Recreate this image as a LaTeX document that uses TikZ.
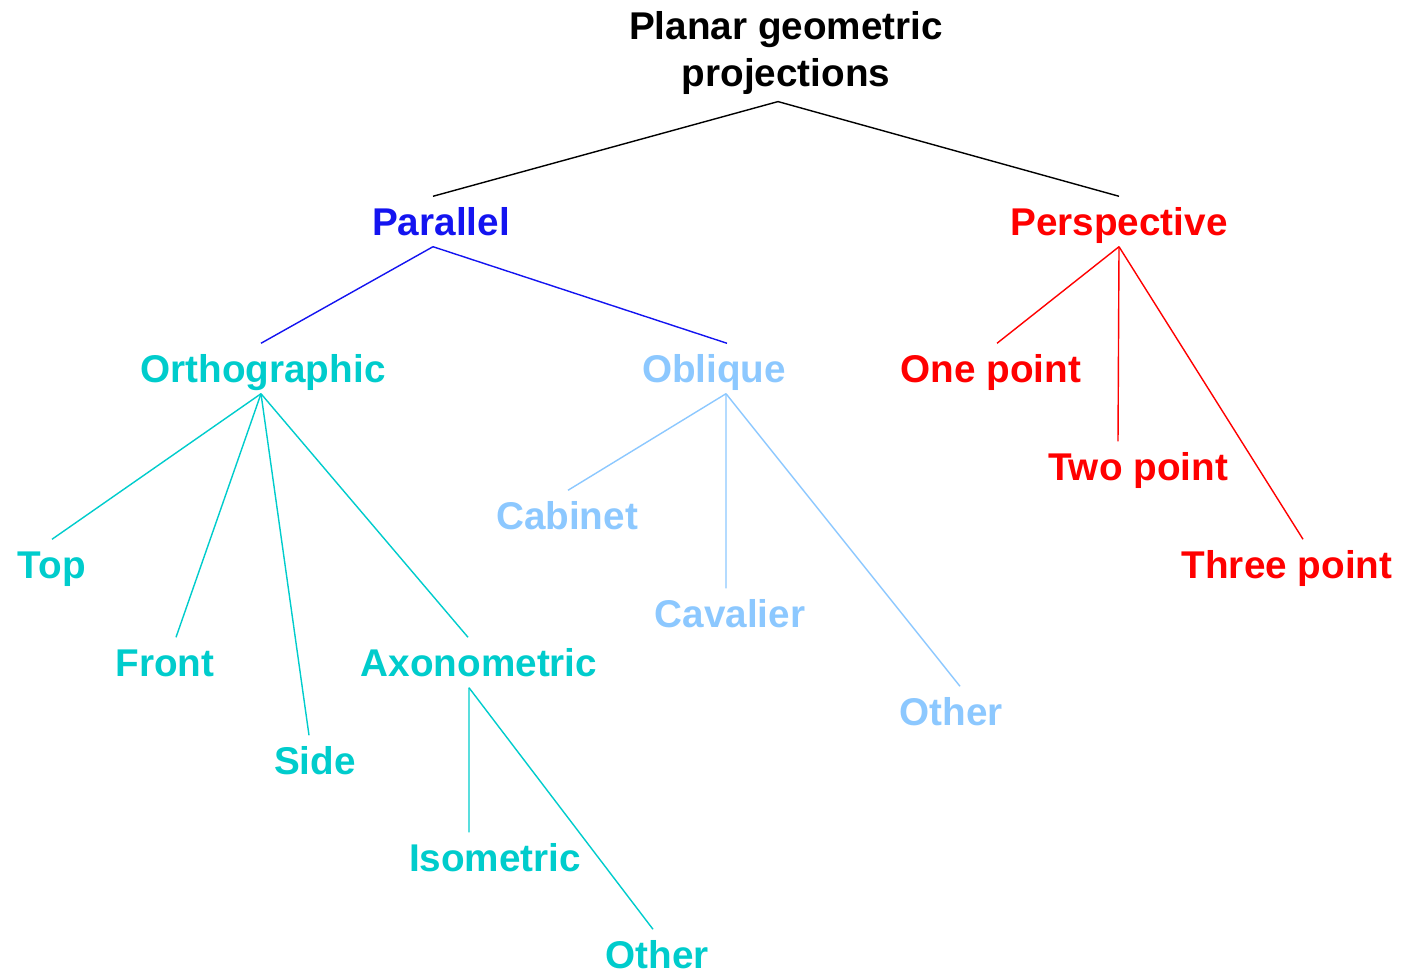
\documentclass[tikz,border=0pt]{standalone}
\usepackage{fontspec}
\setmainfont{Liberation Sans}

\definecolor{parblue}{RGB}{20,20,240}
\definecolor{orthcyan}{RGB}{0,204,204}
\definecolor{oblblue}{RGB}{140,200,255}
\definecolor{persred}{RGB}{255,0,0}

\begin{document}
\begin{tikzpicture}[
        x=0.01cm, y=-0.01cm,
        font=\fontsize{11}{13.4}\selectfont\bfseries,
        kind/.style={anchor=base, inner xsep=0pt, inner ysep=0.09cm, text height=0.29cm, text depth=0.02cm},
        link/.style={line width=0.4pt}
    ]
        \useasboundingbox (0,0) rectangle (1404,973);

        \node[align=center, anchor=north, inner sep=0pt] (root) at (786,11) {Planar geometric\\projections};
        \coordinate (rootjoin) at ([xshift=-0.08cm, yshift=-0.06cm]root.south);

        % first level
        \node[kind, parblue] (par) at (441,235) {Parallel};
        \node[kind, persred] (pers) at (1119,235) {Perspective};

        % second level
        \node[kind, orthcyan] (orth) at (263,382) {Orthographic};
        \node[kind, oblblue] (obl) at (714,382) {Oblique};
        \node[kind, persred] (one) at (991,382) {One point};
        \node[kind, persred] (two) at (1138,480) {Two point};
        \node[kind, persred] (three) at (1287,578) {Three point};

        % orthographic and oblique kinds
        \node[kind, orthcyan] (top) at (52,578) {Top};
        \node[kind, orthcyan] (front) at (165,676) {Front};
        \node[kind, orthcyan] (side) at (315,774) {Side};
        \node[kind, orthcyan] (axo) at (479,676) {Axonometric};
        \node[kind, oblblue] (cab) at (567,529) {Cabinet};
        \node[kind, oblblue] (cav) at (730,627) {Cavalier};
        \node[kind, oblblue] (oblother) at (951,725) {Other};

        % axonometric kinds
        \node[kind, orthcyan] (iso) at (495,871) {Isometric};
        \node[kind, orthcyan] (axoother) at (657,968) {Other};

        \draw[link] (rootjoin) -- ([xshift=-0.08cm]par.north);
        \draw[link] (rootjoin) -- (pers.north);

        \draw[link, parblue] ([xshift=-0.08cm]par.south) -- ([xshift=-0.02cm]orth.north);
        \draw[link, parblue] ([xshift=-0.08cm]par.south) -- ([xshift=0.13cm]obl.north);

        \foreach \c/\s in {one/0.06, two/-0.2, three/0.16}
            \draw[link, persred] (pers.south) -- ([xshift=\s cm]\c.north);

        \foreach \c/\s in {top/0, front/0.11, side/-0.06, axo/-0.11}
            \draw[link, orthcyan] ([xshift=-0.02cm]orth.south) -- ([xshift=\s cm]\c.north);

        \foreach \c/\s in {cab/0.01, cav/-0.04, oblother/0.09}
            \draw[link, oblblue] ([xshift=0.12cm]obl.south) -- ([xshift=\s cm]\c.north);

        \foreach \c/\s in {iso/-0.26, axoother/-0.04}
            \draw[link, orthcyan] ([xshift=-0.1cm]axo.south) -- ([xshift=\s cm]\c.north);
    \end{tikzpicture}
\end{document}
